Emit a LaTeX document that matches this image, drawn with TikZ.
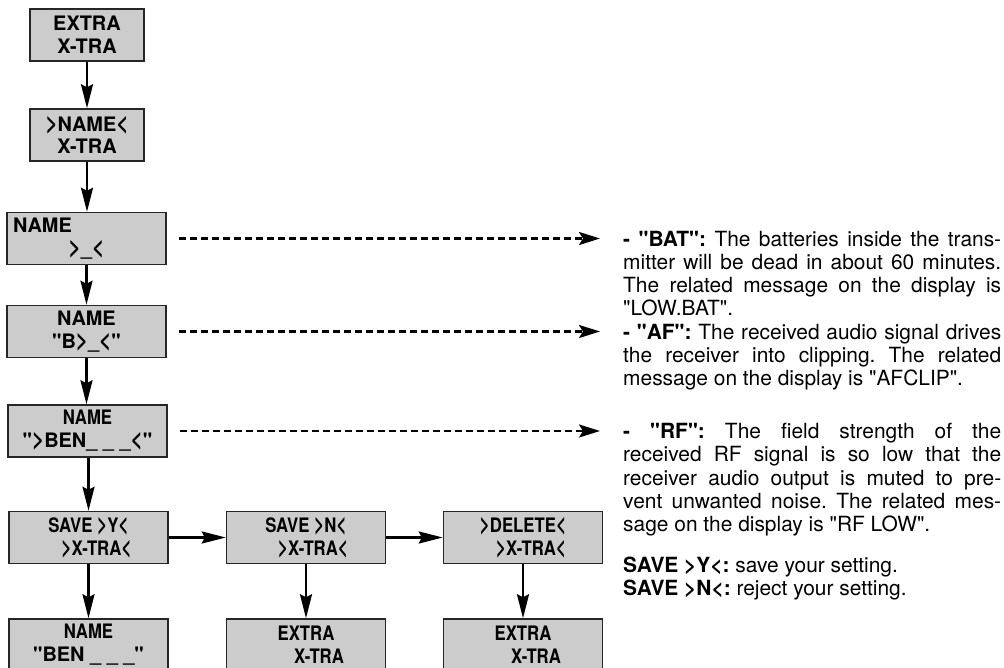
\documentclass[tikz,border=0pt]{standalone}
\usepackage{fontspec}
\setmainfont{TeX Gyre Heros}[Ligatures=TeXOff]
\newfontfamily\condfont{TeX Gyre Heros}[Ligatures=TeXOff,FakeStretch=0.84]
\usetikzlibrary{arrows.meta}
\definecolor{boxfill}{gray}{0.8}
\definecolor{boxline}{gray}{0.15}
\newcommand\gtch{\scalebox{1.05}[1.25]{>}}
\newcommand\ltch{\scalebox{1.05}[1.25]{<}}
\begin{document}
\begin{tikzpicture}[x=1bp,y=-1bp,
  screen/.style={draw=boxline, fill=boxfill, line width=1.5bp, rectangle, inner sep=0pt,
    minimum width=159bp, minimum height=52bp, align=center,
    font=\bfseries\fontsize{20}{23}\selectfont},
  narrowbox/.style={minimum width=114bp},
  cond/.style={font=\condfont\bfseries\fontsize{20}{23}\selectfont},
  flow/.style={line width=2.2bp, -{Stealth[length=24bp,width=12bp,inset=3bp]}},
  hint/.style={line width=2.4bp, dash pattern=on 7.5bp off 3.5bp,
    -{Stealth[length=21bp,width=13bp,inset=4bp]}},
  note/.style={anchor=north west, inner sep=0pt, text width=378bp, align=justify,
    font=\fontsize{21}{23.25}\selectfont,
    execute at begin node={\tolerance=10000\hyphenpenalty=10000\frenchspacing}}]
\useasboundingbox (0,0) rectangle (1004,668);

% column 1
\node[screen,narrowbox] (b1) at (87,35) {EXTRA\\X-TRA};
\node[screen,narrowbox] (b2) at (87,135) {\gtch NAME\ltch\\X-TRA};
\node[screen] (b3) at (86.5,238.5) {NAME\hspace*{88bp}\\\gtch\_\ltch};
\node[screen] (b4) at (86.5,331.5) {NAME\\"B\gtch\_\ltch"};
\node[screen] (b5) at (87.5,431) {{\condfont NAME}\\"\gtch BEN\_ \_ \_\ltch"};
\node[screen,cond] (b6) at (88.5,537.5) {SAVE \gtch Y\ltch\\\hspace*{16bp}\gtch X-TRA\ltch};
\node[screen] (b7) at (88.5,645) {{\condfont NAME}\\"BEN \_ \_ \_"};
% column 2
\node[screen,cond] (b8) at (306,537.5) {SAVE \gtch N\ltch\\\hspace*{14bp}\gtch X-TRA\ltch};
\node[screen,cond] (b9) at (306,645) {EXTRA\\\hspace*{26bp}X-TRA};
% column 3
\node[screen,cond] (b10) at (523,537.5) {\gtch DELETE\ltch\\\hspace*{16bp}\gtch X-TRA\ltch};
\node[screen,cond] (b11) at (523,645) {EXTRA\\\hspace*{26bp}X-TRA};

% flow arrows
\draw[flow] (b1.south) -- (b1.south |- b2.north);
\draw[flow] (b2.south) -- (b2.south |- b3.north);
\draw[flow] (b3.south) -- (b3.south |- b4.north);
\draw[flow] (b4.south) -- (b4.south |- b5.north);
\draw[flow] (b6.north |- b5.south) -- (b6.north);
\draw[flow] (b6.south) -- (b7.north);
\draw[flow] (b8.south) -- (b9.north);
\draw[flow] (b10.south) -- (b11.north);
\draw[flow] (b6.east) -- (b8.west);
\draw[flow] (b8.east) -- (b10.west);

% dashed pointers
\coordinate (e1) at (600,238.5);
\coordinate (e2) at (600,331.5);
\coordinate (e3) at (600,431);
\draw[hint] ([xshift=12bp]b3.east) -- (e1);
\draw[hint] ([xshift=12bp]b4.east) -- (e2);
\draw[hint] ([xshift=12bp]b5.east) -- (e3);

% notes
\node[note] (t1) at (623,229.8) {\noindent\strut\textbf{- "BAT":} The batteries inside the trans-\linebreak
mitter will be dead in about 60 minutes.\linebreak
The related message on the display is\linebreak
"LOW.BAT".};
\node[note] (t2) at (623,322.8) {\noindent\strut\textbf{- "AF":} The received audio signal drives\linebreak
the receiver into clipping. The related\linebreak
message on the display is "AFCLIP".};
\node[note] (t3) at (623,422.3) {\noindent\strut\textbf{- "RF":} The field strength of the\linebreak
received RF signal is so low that the\linebreak
receiver audio output is muted to pre-\linebreak
vent unwanted noise. The related mes-\linebreak
sage on the display is "RF LOW".\par
\vspace{18bp}
\noindent\textbf{SAVE >Y<:} save your setting.\par
\noindent\textbf{SAVE >N<:} reject your setting.};
\end{tikzpicture}
\end{document}
